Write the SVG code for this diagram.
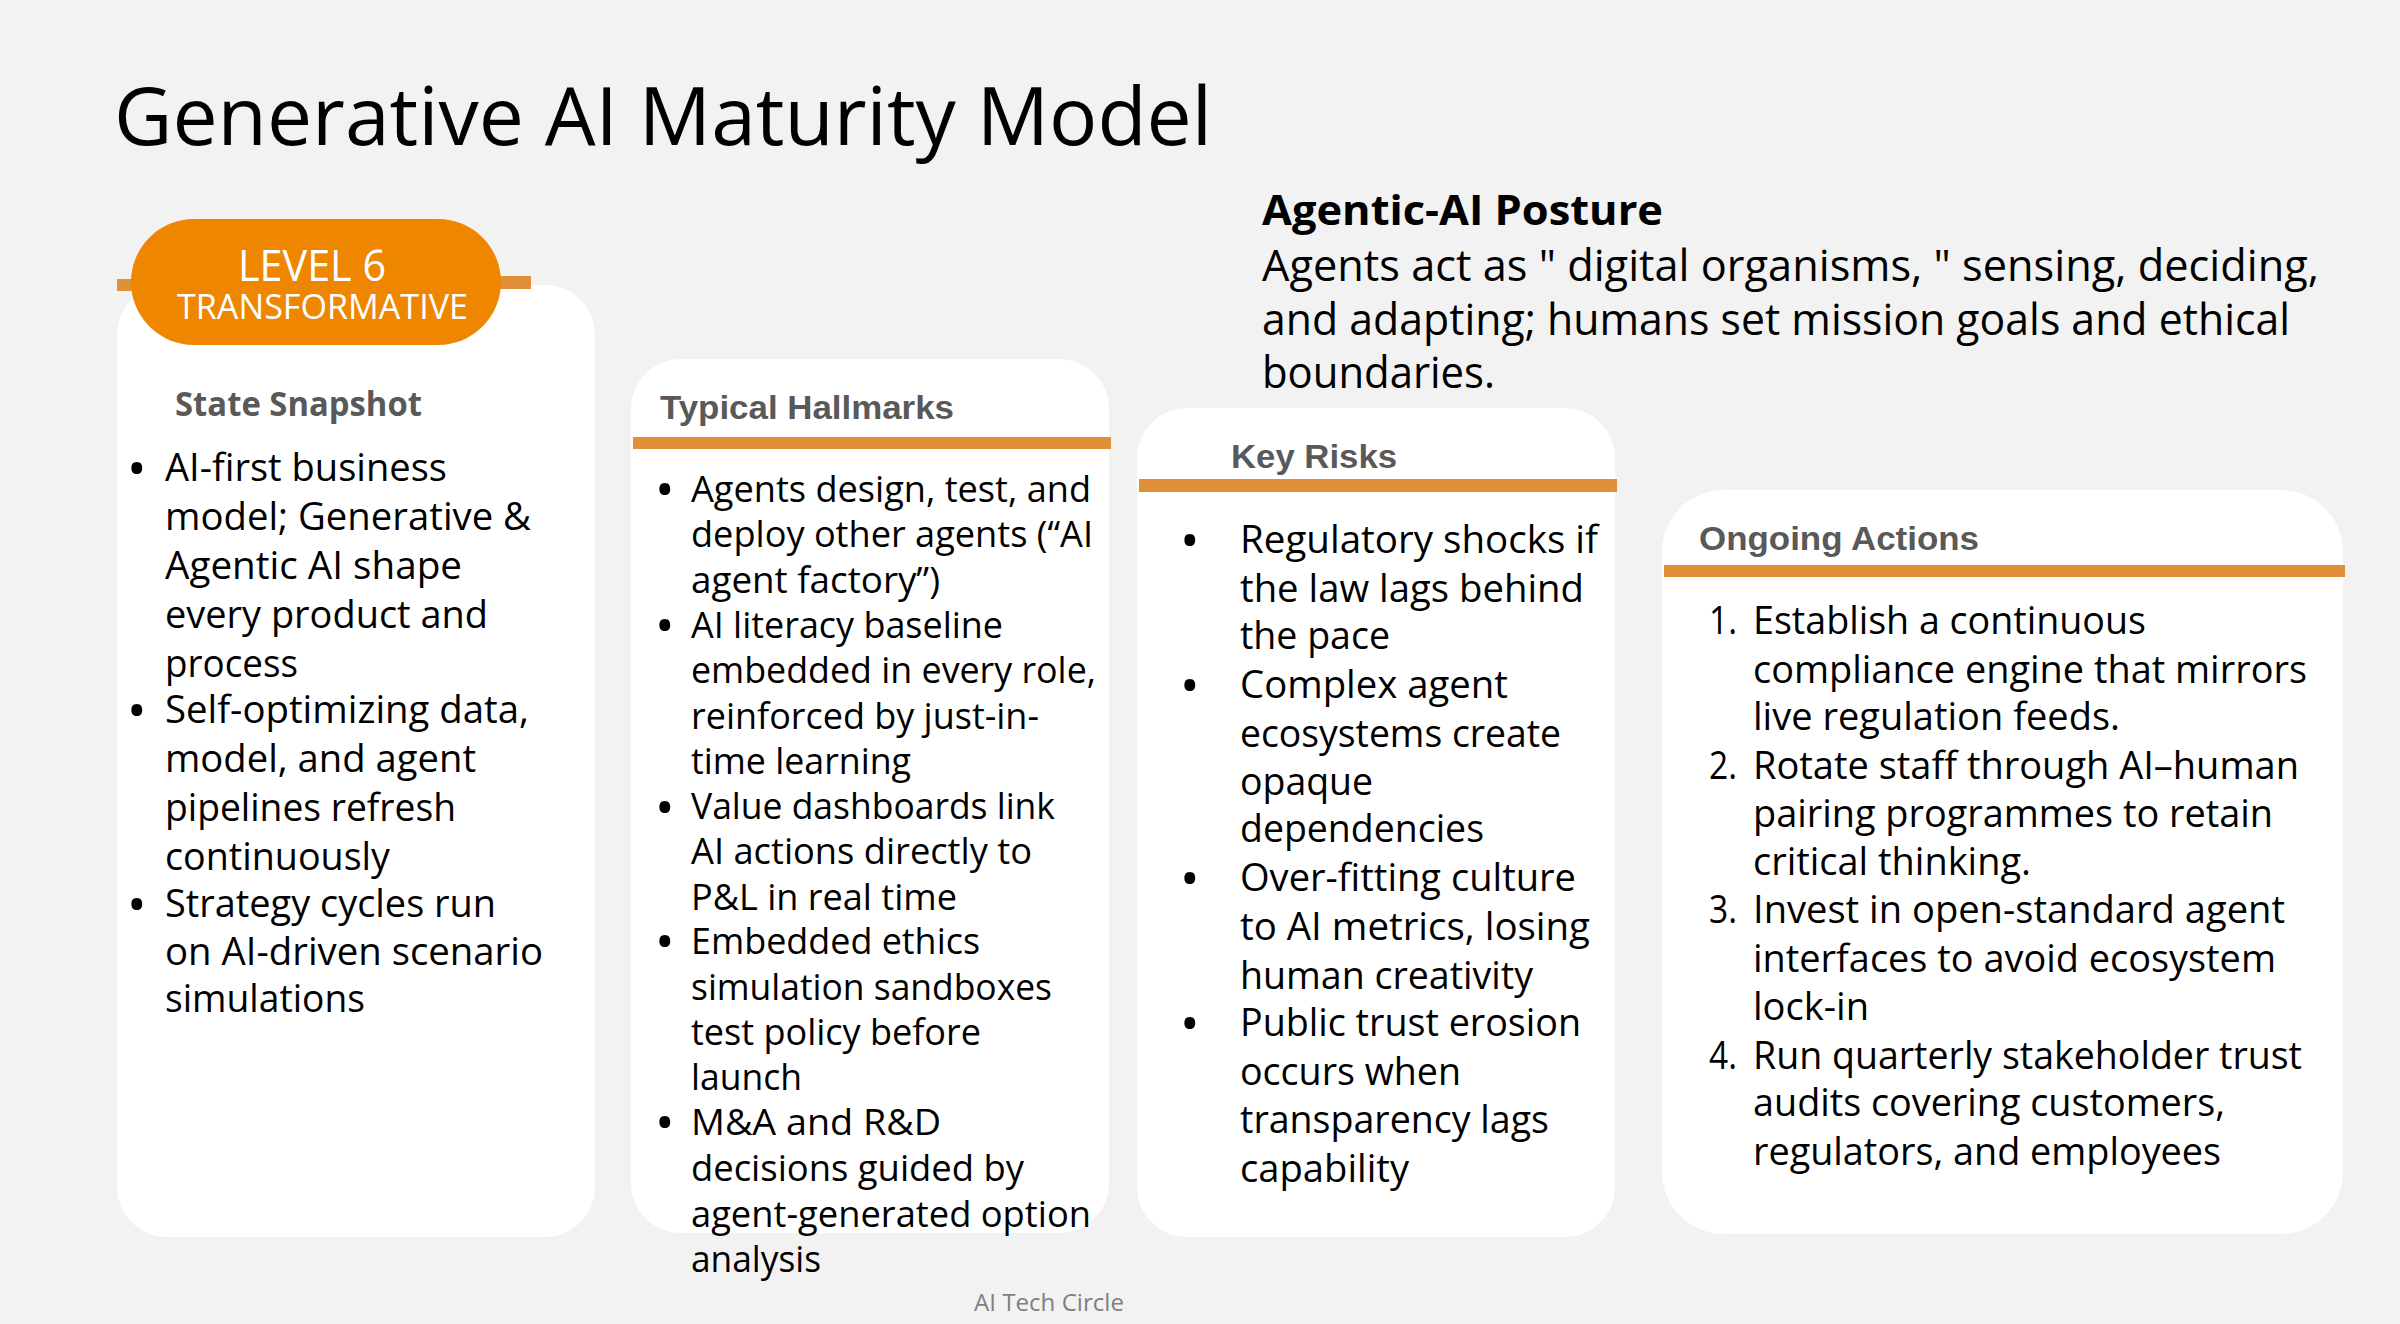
<svg xmlns="http://www.w3.org/2000/svg" width="2400" height="1324" viewBox="0 0 2400 1324">
<style>
text{font-family:"Open Sans","Noto Sans","Liberation Sans",sans-serif;fill:#000}
.card{fill:#fff}
.bar{fill:#E19039}
.b1{font-size:38px}
.b2{font-size:36.5px}
.bu{font-size:52px}
.h{font-family:"Liberation Sans",Arial,sans-serif;font-weight:700;font-size:34px;fill:#595959}
</style>
<rect width="2400" height="1324" fill="#F2F2F2"/>
<text id="title" x="114" y="145" font-size="80" textLength="1098" lengthAdjust="spacingAndGlyphs">Generative AI Maturity Model</text>
<g id="posture">
<text x="1262" y="225" font-size="42" font-weight="700" textLength="401" lengthAdjust="spacingAndGlyphs">Agentic-AI Posture</text>
<text x="1262" y="281" font-size="44" textLength="1057" lengthAdjust="spacingAndGlyphs">Agents act as " digital organisms, " sensing, deciding,</text>
<text x="1262" y="335" font-size="44" textLength="1028" lengthAdjust="spacingAndGlyphs">and adapting; humans set mission goals and ethical</text>
<text x="1262" y="388" font-size="44" textLength="233" lengthAdjust="spacingAndGlyphs">boundaries.</text>
</g>
<g id="state-snapshot">
<rect class="card" x="117" y="285" width="478" height="952" rx="50"/>
<text x="175" y="416" font-size="34" font-weight="700" style="fill:#595959" textLength="247" lengthAdjust="spacingAndGlyphs">State Snapshot</text>
<text class="bu" x="127" y="487">•</text>
<text class="bu" x="127" y="729">•</text>
<text class="bu" x="127" y="923">•</text>
<g class="b1">
<text x="165" y="481" textLength="282" lengthAdjust="spacingAndGlyphs">AI-first business</text>
<text x="165" y="530" textLength="366" lengthAdjust="spacingAndGlyphs">model; Generative &amp;</text>
<text x="165" y="579" textLength="297" lengthAdjust="spacingAndGlyphs">Agentic AI shape</text>
<text x="165" y="628" textLength="323" lengthAdjust="spacingAndGlyphs">every product and</text>
<text x="165" y="677" textLength="133" lengthAdjust="spacingAndGlyphs">process</text>
<text x="165" y="723" textLength="364" lengthAdjust="spacingAndGlyphs">Self-optimizing data,</text>
<text x="165" y="772" textLength="311" lengthAdjust="spacingAndGlyphs">model, and agent</text>
<text x="165" y="821" textLength="291" lengthAdjust="spacingAndGlyphs">pipelines refresh</text>
<text x="165" y="870" textLength="225" lengthAdjust="spacingAndGlyphs">continuously</text>
<text x="165" y="917" textLength="331" lengthAdjust="spacingAndGlyphs">Strategy cycles run</text>
<text x="165" y="965" textLength="378" lengthAdjust="spacingAndGlyphs">on AI-driven scenario</text>
<text x="165" y="1012" textLength="200" lengthAdjust="spacingAndGlyphs">simulations</text>
</g>
</g>
<g id="level-badge">
<rect class="bar" x="117" y="279" width="20" height="12"/>
<rect class="bar" x="495" y="276" width="36" height="13"/>
<rect x="131" y="219" width="370" height="126" rx="63" fill="#EF8600"/>
<text x="238" y="281" font-size="43" style="fill:#fff" textLength="148" lengthAdjust="spacingAndGlyphs">LEVEL 6</text>
<text x="177" y="319" font-size="34" style="fill:#fff" textLength="291" lengthAdjust="spacingAndGlyphs">TRANSFORMATIVE</text>
</g>
<g id="typical-hallmarks">
<rect class="card" x="631" y="359" width="478" height="874" rx="50"/>
<rect class="bar" x="633" y="437" width="478" height="12"/>
<text class="h" x="660" y="419" textLength="294" lengthAdjust="spacingAndGlyphs">Typical Hallmarks</text>
<text class="bu" x="655" y="508">•</text>
<text class="bu" x="655" y="644">•</text>
<text class="bu" x="655" y="826">•</text>
<text class="bu" x="655" y="960">•</text>
<text class="bu" x="655" y="1141">•</text>
<g class="b2">
<text x="691" y="502" textLength="400" lengthAdjust="spacingAndGlyphs">Agents design, test, and</text>
<text x="691" y="547" textLength="402" lengthAdjust="spacingAndGlyphs">deploy other agents (“AI</text>
<text x="691" y="593" textLength="249" lengthAdjust="spacingAndGlyphs">agent factory”)</text>
<text x="691" y="638" textLength="312" lengthAdjust="spacingAndGlyphs">AI literacy baseline</text>
<text x="691" y="683" textLength="405" lengthAdjust="spacingAndGlyphs">embedded in every role,</text>
<text x="691" y="729" textLength="348" lengthAdjust="spacingAndGlyphs">reinforced by just-in-</text>
<text x="691" y="774" textLength="220" lengthAdjust="spacingAndGlyphs">time learning</text>
<text x="691" y="819" textLength="364" lengthAdjust="spacingAndGlyphs">Value dashboards link</text>
<text x="691" y="864" textLength="341" lengthAdjust="spacingAndGlyphs">AI actions directly to</text>
<text x="691" y="910" textLength="266" lengthAdjust="spacingAndGlyphs">P&amp;L in real time</text>
<text x="691" y="954" textLength="289" lengthAdjust="spacingAndGlyphs">Embedded ethics</text>
<text x="691" y="1000" textLength="361" lengthAdjust="spacingAndGlyphs">simulation sandboxes</text>
<text x="691" y="1045" textLength="290" lengthAdjust="spacingAndGlyphs">test policy before</text>
<text x="691" y="1090" textLength="111" lengthAdjust="spacingAndGlyphs">launch</text>
<text x="691" y="1135" textLength="250" lengthAdjust="spacingAndGlyphs">M&amp;A and R&amp;D</text>
<text x="691" y="1181" textLength="333" lengthAdjust="spacingAndGlyphs">decisions guided by</text>
<text x="691" y="1227" textLength="400" lengthAdjust="spacingAndGlyphs">agent-generated option</text>
<text x="691" y="1272" textLength="130" lengthAdjust="spacingAndGlyphs">analysis</text>
</g>
</g>
<g id="key-risks">
<rect class="card" x="1137" y="408" width="478" height="829" rx="50"/>
<rect class="bar" x="1139" y="479" width="478" height="13"/>
<text class="h" x="1231" y="468" textLength="166" lengthAdjust="spacingAndGlyphs">Key Risks</text>
<text class="bu" x="1180" y="559">•</text>
<text class="bu" x="1180" y="704">•</text>
<text class="bu" x="1180" y="897">•</text>
<text class="bu" x="1180" y="1042">•</text>
<g class="b1">
<text x="1240" y="553" textLength="358" lengthAdjust="spacingAndGlyphs">Regulatory shocks if</text>
<text x="1240" y="602" textLength="344" lengthAdjust="spacingAndGlyphs">the law lags behind</text>
<text x="1240" y="649" textLength="150" lengthAdjust="spacingAndGlyphs">the pace</text>
<text x="1240" y="698" textLength="268" lengthAdjust="spacingAndGlyphs">Complex agent</text>
<text x="1240" y="747" textLength="321" lengthAdjust="spacingAndGlyphs">ecosystems create</text>
<text x="1240" y="795" textLength="133" lengthAdjust="spacingAndGlyphs">opaque</text>
<text x="1240" y="842" textLength="244" lengthAdjust="spacingAndGlyphs">dependencies</text>
<text x="1240" y="891" textLength="336" lengthAdjust="spacingAndGlyphs">Over-fitting culture</text>
<text x="1240" y="940" textLength="350" lengthAdjust="spacingAndGlyphs">to AI metrics, losing</text>
<text x="1240" y="989" textLength="293" lengthAdjust="spacingAndGlyphs">human creativity</text>
<text x="1240" y="1036" textLength="341" lengthAdjust="spacingAndGlyphs">Public trust erosion</text>
<text x="1240" y="1085" textLength="221" lengthAdjust="spacingAndGlyphs">occurs when</text>
<text x="1240" y="1133" textLength="309" lengthAdjust="spacingAndGlyphs">transparency lags</text>
<text x="1240" y="1182" textLength="169" lengthAdjust="spacingAndGlyphs">capability</text>
</g>
</g>
<g id="ongoing-actions">
<rect class="card" x="1662" y="490" width="681" height="744" rx="62"/>
<rect class="bar" x="1664" y="565" width="681" height="12"/>
<text class="h" x="1699" y="550" textLength="280" lengthAdjust="spacingAndGlyphs">Ongoing Actions</text>
<g class="b1">
<text x="1709" y="634" textLength="28" lengthAdjust="spacingAndGlyphs">1.</text>
<text x="1753" y="634" textLength="393" lengthAdjust="spacingAndGlyphs">Establish a continuous</text>
<text x="1753" y="683" textLength="554" lengthAdjust="spacingAndGlyphs">compliance engine that mirrors</text>
<text x="1753" y="730" textLength="367" lengthAdjust="spacingAndGlyphs">live regulation feeds.</text>
<text x="1709" y="779" textLength="28" lengthAdjust="spacingAndGlyphs">2.</text>
<text x="1753" y="779" textLength="546" lengthAdjust="spacingAndGlyphs">Rotate staff through AI–human</text>
<text x="1753" y="827" textLength="520" lengthAdjust="spacingAndGlyphs">pairing programmes to retain</text>
<text x="1753" y="875" textLength="278" lengthAdjust="spacingAndGlyphs">critical thinking.</text>
<text x="1709" y="923" textLength="28" lengthAdjust="spacingAndGlyphs">3.</text>
<text x="1753" y="923" textLength="532" lengthAdjust="spacingAndGlyphs">Invest in open-standard agent</text>
<text x="1753" y="972" textLength="523" lengthAdjust="spacingAndGlyphs">interfaces to avoid ecosystem</text>
<text x="1753" y="1020" textLength="116" lengthAdjust="spacingAndGlyphs">lock-in</text>
<text x="1709" y="1069" textLength="28" lengthAdjust="spacingAndGlyphs">4.</text>
<text x="1753" y="1069" textLength="549" lengthAdjust="spacingAndGlyphs">Run quarterly stakeholder trust</text>
<text x="1753" y="1116" textLength="472" lengthAdjust="spacingAndGlyphs">audits covering customers,</text>
<text x="1753" y="1165" textLength="468" lengthAdjust="spacingAndGlyphs">regulators, and employees</text>
</g>
</g>
<text id="footer" x="974" y="1311" font-size="24" style="fill:#7F7F7F" textLength="150" lengthAdjust="spacingAndGlyphs">AI Tech Circle</text>
</svg>
